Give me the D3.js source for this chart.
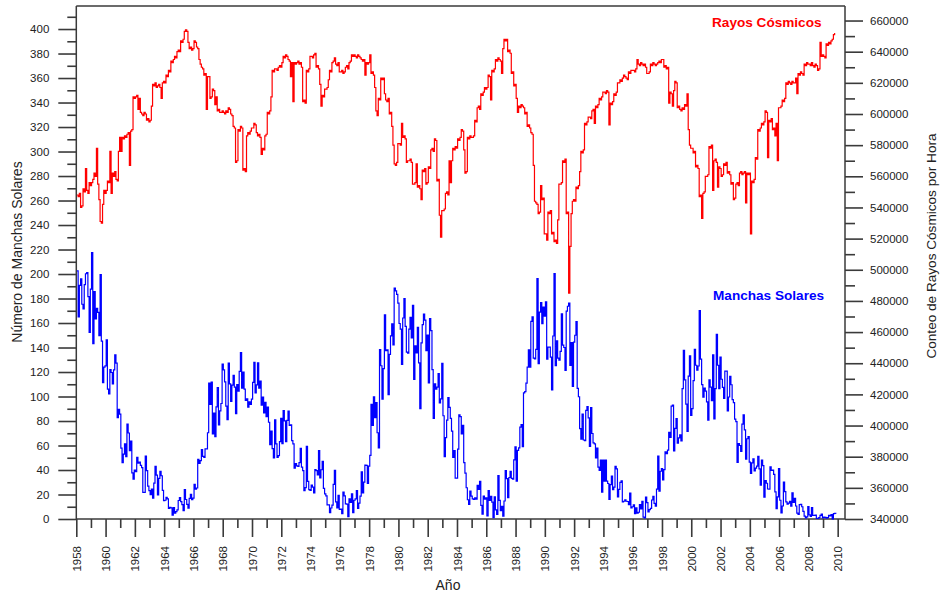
<!DOCTYPE html>
<html>
<head>
<meta charset="utf-8">
<script src="https://cdn.jsdelivr.net/npm/d3@7"></script>
<style>
  body { margin: 0; background: #fff; }
  svg { display: block; }
  text { font-family: Arial, "Liberation Sans", sans-serif; }
</style>
</head>
<body>
<svg id="chart" width="940" height="596"></svg>
<script>
// Monthly series, starting January 1958.
const firstYear = 1958;

// Monthly sunspot number.
const sunspotNumbers = [
  202.5,164.9,190.7,196.0,175.3,171.5,191.4,200.2,201.2,181.5,152.3,187.6, // 1958
  217.4,143.1,185.7,163.3,172.0,168.7,149.6,199.6,145.2,111.4,124.0,125.0, // 1959
  146.3,106.0,102.2,122.0,119.6,110.2,121.7,134.1,127.2,82.8,89.6,85.6,    // 1960
  57.9,46.1,53.0,61.4,51.0,77.4,70.2,55.8,63.6,37.7,32.6,39.9,             // 1961
  38.7,50.3,45.6,46.4,43.7,42.0,21.8,21.8,51.3,39.5,26.9,23.2,             // 1962
  19.8,24.4,17.1,29.3,43.0,35.9,19.6,33.2,38.8,35.3,23.4,14.9,             // 1963
  15.3,17.7,16.5,8.6,9.5,9.1,3.1,9.3,4.7,6.1,7.4,15.1,                     // 1964
  17.5,14.2,11.7,6.8,24.1,15.9,11.9,8.9,16.8,20.1,15.8,17.0,               // 1965
  28.2,24.4,25.3,48.7,45.3,47.7,56.7,51.2,50.2,57.2,57.2,70.4,             // 1966
  110.9,93.6,111.8,69.5,86.5,67.3,91.5,107.2,76.8,88.2,94.3,126.4,         // 1967
  121.8,111.9,92.2,81.2,127.2,110.3,96.1,109.3,117.2,107.7,86.0,109.8,     // 1968
  104.4,120.5,135.8,106.8,120.0,106.0,96.8,98.0,91.3,95.7,93.5,97.9,       // 1969
  111.5,127.8,102.9,109.5,127.5,106.8,112.5,93.0,99.5,86.6,95.2,83.5,      // 1970
  91.3,79.0,60.7,71.8,57.5,49.8,81.0,61.4,50.2,51.7,63.2,82.2,             // 1971
  61.5,88.4,80.1,63.2,80.5,88.0,76.5,76.8,64.0,61.3,41.6,45.3,             // 1972
  43.4,42.9,46.0,57.7,42.4,39.5,23.1,25.6,59.3,30.7,23.9,23.3,             // 1973
  27.6,26.0,21.3,40.3,39.5,36.0,55.8,33.6,40.2,47.1,25.0,20.5,             // 1974
  18.9,11.5,11.5,5.1,9.0,11.4,28.2,39.7,13.9,9.1,19.4,7.8,                 // 1975
  8.1,4.3,21.9,18.8,12.4,12.2,1.9,16.4,13.5,20.6,5.2,15.3,                 // 1976
  16.4,23.1,8.7,12.9,18.6,38.5,21.4,30.1,44.0,43.8,29.1,43.2,              // 1977
  51.9,93.6,76.5,99.7,82.7,95.1,70.4,58.1,138.2,125.1,97.9,122.7,          // 1978
  166.6,137.5,138.0,101.5,134.4,149.5,159.4,142.2,188.4,186.2,183.3,176.3, // 1979
  159.6,155.0,126.2,164.1,179.9,157.3,136.3,135.4,155.0,164.7,147.9,174.4, // 1980
  114.0,141.3,135.5,156.4,127.5,90.0,143.8,158.7,167.3,162.4,137.5,150.1,  // 1981
  111.2,163.6,153.8,122.0,82.2,110.4,106.1,107.6,118.8,94.7,98.1,127.0,    // 1982
  84.3,51.0,66.5,80.7,99.2,91.1,82.2,71.8,50.3,55.8,33.3,33.4,             // 1983
  57.0,85.1,83.5,69.4,76.4,46.1,37.4,25.5,15.7,12.0,22.8,18.7,             // 1984
  16.5,15.9,17.2,16.2,27.5,24.2,30.7,11.1,3.9,18.6,16.2,17.3,              // 1985
  2.5,23.2,15.1,18.5,13.7,1.1,18.1,7.4,3.8,35.4,15.2,6.8,                  // 1986
  10.4,2.4,14.7,39.6,33.0,17.4,33.9,38.8,33.1,32.6,48.2,59.0,              // 1987
  31.0,56.0,58.0,75.0,77.0,59.0,103.0,104.0,111.0,124.0,138.0,124.0,       // 1988
  161.3,165.1,131.4,130.6,138.5,196.2,126.9,168.9,176.7,159.4,173.0,165.5, // 1989
  177.3,130.5,140.3,140.3,132.2,105.4,149.4,200.3,125.2,145.5,131.4,129.7, // 1990
  136.9,167.5,141.9,140.0,121.3,169.7,173.7,176.3,125.3,144.1,108.2,144.4, // 1991
  150.0,161.1,106.7,99.8,73.8,65.2,85.7,64.5,63.9,88.7,91.8,82.6,          // 1992
  59.3,91.0,69.8,62.2,61.3,49.8,57.9,42.4,39.6,48.0,22.0,48.0,             // 1993
  31.0,48.0,31.0,29.0,16.0,28.0,35.0,24.0,26.0,43.0,41.0,18.0,             // 1994
  24.2,29.9,31.1,14.0,14.5,15.6,14.5,14.3,11.8,21.1,9.0,10.0,              // 1995
  11.5,4.4,9.2,4.8,5.5,11.8,8.2,14.4,1.6,0.9,17.9,13.3,                    // 1996
  5.7,7.6,8.7,15.5,18.5,12.7,10.4,24.4,51.3,22.8,39.0,41.2,                // 1997
  31.9,40.3,54.8,53.4,56.3,70.7,66.6,92.2,92.9,55.5,74.0,81.9,             // 1998
  62.0,66.3,68.8,63.7,106.4,137.7,113.5,93.7,71.5,116.7,133.2,84.6,        // 1999
  90.1,112.9,138.5,125.5,121.6,124.9,170.1,130.5,109.7,99.4,106.8,104.4,   // 2000
  95.6,80.6,113.5,107.7,96.6,134.0,81.8,106.4,150.7,125.5,106.5,132.2,     // 2001
  114.1,107.4,98.4,120.7,120.8,88.3,99.6,116.4,109.6,97.5,95.0,81.6,       // 2002
  79.5,46.2,61.5,60.0,55.2,77.4,85.0,72.7,48.8,65.5,67.3,46.5,             // 2003
  37.3,45.8,49.1,39.3,41.5,43.2,51.1,40.9,27.7,48.0,43.5,17.9,             // 2004
  31.3,29.2,24.5,24.4,42.6,39.6,39.9,36.4,22.1,8.5,18.0,41.2,              // 2005
  15.3,4.9,10.6,30.2,22.3,13.9,12.2,12.9,14.4,10.5,21.4,13.6,              // 2006
  16.9,10.6,4.8,3.7,11.7,12.0,10.0,6.2,2.4,0.9,1.7,10.1,                   // 2007
  3.4,2.1,9.3,2.9,2.9,3.1,0.5,0.5,1.1,2.9,4.1,0.8,                         // 2008
  1.5,1.4,0.7,1.2,2.9,2.6,3.5,0.0,4.4,4.6,4.2                              // 2009
];

// Monthly cosmic-ray count rate, thousands of counts per hour.
const cosmicRayThousands = [
  548,547,549,540,541,552,550,565,551,549,556,554, // 1958
  556,558,562,560,578,555,545,531,530,542,551,549, // 1959
  551,557,556,576,549,562,560,563,558,557,576,585, // 1960
  576,585,584,586,585,587,588,567,589,590,611,610, // 1961
  611,612,603,610,601,600,599,601,600,596,597,595, // 1962
  596,605,619,618,620,617,618,619,617,610,620,621, // 1963
  620,625,624,628,627,634,633,635,637,636,640,641, // 1964
  640,647,646,648,653,654,653,646,642,643,641,642, // 1965
  647,646,643,642,635,632,630,629,625,626,603,624, // 1966
  624,610,611,616,615,606,611,602,603,601,601,602, // 1967
  601,600,602,601,604,603,600,599,592,591,569,570, // 1968
  590,589,592,591,564,565,563,586,588,587,589,591, // 1969
  591,594,593,588,586,587,585,574,578,577,586,587, // 1970
  601,600,602,611,628,627,629,629,628,630,631,630, // 1971
  633,637,636,638,637,635,634,624,633,608,633,632, // 1972
  633,634,632,633,630,608,609,607,628,627,629,637, // 1973
  637,636,638,639,630,631,629,619,605,612,611,616, // 1974
  616,617,622,628,627,633,634,636,632,631,633,627, // 1975
  627,628,626,627,630,631,629,633,634,638,637,638, // 1976
  637,636,638,637,636,635,634,635,625,633,632,633, // 1977
  638,626,627,625,617,602,599,610,609,623,622,623, // 1978
  613,609,608,610,600,601,592,580,568,567,569,581, // 1979
  581,580,594,585,586,584,569,570,570,571,569,555, // 1980
  555,556,568,553,554,552,545,564,563,565,555,556, // 1981
  566,565,577,578,576,584,583,557,558,535,521,538, // 1982
  538,539,549,550,548,570,556,570,578,577,579,578, // 1983
  584,583,585,590,589,577,562,563,585,584,586,585, // 1984
  585,586,596,595,604,605,603,613,612,614,617,616, // 1985
  617,625,624,609,628,627,629,635,634,636,635,634, // 1986
  626,642,648,647,648,640,641,639,626,627,618,619, // 1987
  610,601,605,604,606,605,604,600,601,592,593,591, // 1988
  588,587,567,544,543,542,536,537,554,545,546,523, // 1989
  523,519,537,536,538,523,524,518,519,517,532,555, // 1990
  555,556,570,569,571,536,537,485,515,536,544,545, // 1991
  544,553,552,554,563,576,575,577,594,593,595,598, // 1992
  598,597,602,603,594,605,604,606,610,609,611,614, // 1993
  614,613,615,614,593,607,606,608,613,612,614,620, // 1994
  620,622,621,623,625,624,623,622,627,626,628,628, // 1995
  628,627,629,635,632,631,633,632,631,632,630,626, // 1996
  626,627,632,631,633,632,631,632,633,634,633,635, // 1997
  635,630,631,629,630,607,614,613,605,615,621,620, // 1998
  604,605,603,602,604,603,606,605,613,590,580,578, // 1999
  578,575,576,566,567,565,547,548,533,549,550,560, // 2000
  560,561,579,578,580,551,570,571,569,553,566,565, // 2001
  560,561,568,567,569,562,563,561,555,556,545,546, // 2002
  555,556,554,562,563,561,562,563,543,562,561,562, // 2003
  523,557,556,558,572,571,590,589,591,594,593,595, // 2004
  602,601,572,596,595,597,590,591,586,594,570,604, // 2005
  604,605,609,608,610,620,619,621,620,619,621,620, // 2006
  620,623,613,626,625,627,626,625,632,631,633,632, // 2007
  632,631,633,631,630,632,631,628,629,646,637,638, // 2008
  637,636,645,644,646,645,647,648,651,652          // 2009
];

// Axis tick values.
const sunspotTicks = d3.range(0, 401, 20);
const sunspotMinorTicks = d3.range(10, 411, 20);
const cosmicTicks = d3.range(340000, 660001, 20000);
const cosmicMinorTicks = d3.range(350000, 650001, 20000);
const yearTicks = d3.range(1958, 2011, 2);
const yearMinorTicks = d3.range(1959, 2010, 2);

// Records at mid-month.
const sunspotSeries = sunspotNumbers.map((v, i) => ({ t: firstYear + (i + 0.5) / 12, v }));
const cosmicSeries = cosmicRayThousands.map((k, i) => ({ t: firstYear + (i + 0.5) / 12, v: k * 1000 }));

const svg = d3.select("#chart");
const plot = { left: 76.3, right: 845, top: 6, bottom: 519 };

const x = d3.scaleLinear().domain([1958, 2010.5]).range([plot.left, plot.right]);
const ySun = d3.scaleLinear().domain([0, 418.8]).range([plot.bottom, plot.top]);
const yRay = d3.scaleLinear().domain([340000, 669330]).range([plot.bottom, plot.top]);

const axisColor = "#3a3a3a";
const labelColor = "#222";

function styleAxis(g, fontSize) {
  g.selectAll(".domain").remove();
  g.selectAll(".tick line").attr("stroke", axisColor).attr("stroke-width", 1.6);
  g.selectAll(".tick text").attr("fill", labelColor).style("font-size", fontSize + "px").style("font-family", "Arial, 'Liberation Sans', sans-serif");
}

// Left axis: sunspot number
const leftMinor = svg.append("g").attr("transform", `translate(${plot.left},0)`)
  .call(d3.axisLeft(ySun).tickValues(sunspotMinorTicks).tickSize(9).tickFormat(""));
styleAxis(leftMinor, 11.5);
const leftAxis = svg.append("g").attr("transform", `translate(${plot.left},0)`)
  .call(d3.axisLeft(ySun).tickValues(sunspotTicks).tickSize(18).tickPadding(9).tickFormat(d3.format("d")));
styleAxis(leftAxis, 11.5);

// Right axis: cosmic-ray count
const rightMinor = svg.append("g").attr("transform", `translate(${plot.right},0)`)
  .call(d3.axisRight(yRay).tickValues(cosmicMinorTicks).tickSize(10).tickFormat(""));
styleAxis(rightMinor, 11.5);
const rightAxis = svg.append("g").attr("transform", `translate(${plot.right},0)`)
  .call(d3.axisRight(yRay).tickValues(cosmicTicks).tickSize(18).tickPadding(7).tickFormat(d3.format("d")));
styleAxis(rightAxis, 11.5);

// Bottom axis: years
const bottomMinor = svg.append("g").attr("transform", `translate(0,${plot.bottom})`)
  .call(d3.axisBottom(x).tickValues(yearMinorTicks).tickSize(9).tickFormat(""));
styleAxis(bottomMinor, 11.5);
const bottomAxis = svg.append("g").attr("transform", `translate(0,${plot.bottom})`)
  .call(d3.axisBottom(x).tickValues(yearTicks).tickSize(18).tickFormat(d3.format("d")));
styleAxis(bottomAxis, 11.5);
bottomAxis.selectAll(".tick text")
  .attr("transform", "rotate(-90)")
  .attr("x", -27).attr("y", 0).attr("dy", "0.35em")
  .style("text-anchor", "end");

// Frame
const frame = svg.append("g").attr("stroke", axisColor).attr("stroke-width", 1.5).attr("fill", "none");
frame.append("line").attr("x1", plot.left).attr("x2", plot.left).attr("y1", plot.top).attr("y2", plot.bottom);
frame.append("line").attr("x1", plot.right).attr("x2", plot.right).attr("y1", plot.top).attr("y2", plot.bottom);
frame.append("line").attr("x1", plot.left).attr("x2", plot.right).attr("y1", plot.bottom).attr("y2", plot.bottom);
frame.append("line").attr("x1", plot.left).attr("x2", plot.right).attr("y1", plot.top).attr("y2", plot.top);

// Series lines
const sunLine = d3.line().x(d => x(d.t)).y(d => ySun(d.v)).curve(d3.curveStepAfter);
const rayLine = d3.line().x(d => x(d.t)).y(d => yRay(d.v)).curve(d3.curveStepAfter);

svg.append("path").datum(cosmicSeries)
  .attr("d", rayLine).attr("fill", "none").attr("stroke", "#ff0000").attr("stroke-width", 1.2);
svg.append("path").datum(sunspotSeries)
  .attr("d", sunLine).attr("fill", "none").attr("stroke", "#0000ff").attr("stroke-width", 1.2);

// Series labels
svg.append("text").attr("x", 712).attr("y", 27)
  .attr("fill", "#ff0000").style("font-size", "13.6px").style("font-weight", "bold")
  .text("Rayos Cósmicos");
svg.append("text").attr("x", 713).attr("y", 300)
  .attr("fill", "#0000ff").style("font-size", "13.6px").style("font-weight", "bold")
  .text("Manchas Solares");

// Axis titles
svg.append("text").attr("transform", "translate(22,252) rotate(-90)")
  .attr("text-anchor", "middle").attr("fill", labelColor).style("font-size", "14px")
  .text("Número de Manchas Solares");
svg.append("text").attr("transform", "translate(935.5,246) rotate(-90)")
  .attr("text-anchor", "middle").attr("fill", labelColor).style("font-size", "13.6px")
  .text("Conteo de Rayos Cósmicos por Hora");
svg.append("text").attr("x", 448).attr("y", 590)
  .attr("text-anchor", "middle").attr("fill", labelColor).style("font-size", "14px")
  .text("Año");
</script>
</body>
</html>
